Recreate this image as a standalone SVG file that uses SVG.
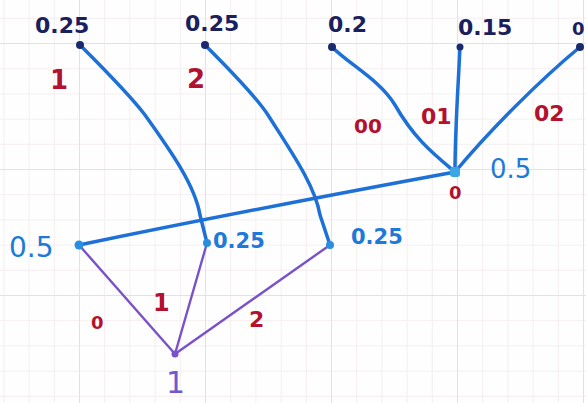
<svg xmlns="http://www.w3.org/2000/svg" width="586" height="403" viewBox="0 0 586 403">
<defs>
<pattern id="minor" x="3.4" y="17.8" width="25.2" height="25.2" patternUnits="userSpaceOnUse">
<path d="M0,0 H25.2 M0,0 V25.2" fill="none" stroke="#f4e9ec" stroke-width="1.5"/>
</pattern>
<pattern id="major" x="79" y="43" width="126" height="126" patternUnits="userSpaceOnUse">
<path d="M0,0 H126 M0,0 V126" fill="none" stroke="#ecdde1" stroke-width="2"/>
</pattern>
</defs>
<style>
.blue{fill:none;stroke:#1d70d6;stroke-width:3.5;stroke-linecap:round;stroke-linejoin:round}
.purple{fill:none;stroke:#7a52c8;stroke-width:2.4;stroke-linecap:round}
text{font-family:"DejaVu Sans","Liberation Sans",sans-serif;font-weight:bold}
.p{fill:#1b1f5e;font-size:22px}
.r{fill:#b3112e;font-size:26px}
.b{fill:#1d7ad8;font-size:26px;font-weight:normal}
.dot{fill:#1b2a6e}
</style>
<rect width="586" height="403" fill="#fefefe"/>
<rect width="586" height="403" fill="url(#minor)"/>
<rect width="586" height="403" fill="url(#major)"/>
<g id="connectors">
<path class="blue" d="M80,45 C100,65 130,95 145,115 C170,150 195,185 200,215 L207,243"/>
<path class="blue" d="M205,45 C225,65 255,95 268,115 C290,150 315,185 320,215 L330,245"/>
<path class="blue" d="M332,47 C350,65 380,80 395,105 C415,140 435,155 455,172"/>
<path class="blue" d="M460,47 C458,90 455,130 455,172"/>
<path class="blue" d="M580,47 C540,80 490,130 455,172"/>
<path class="blue" d="M455,172 C330,195 200,220 79,245"/>
<path class="purple" d="M79,245 L175,354"/>
<path class="purple" d="M207,243 L175,354"/>
<path class="purple" d="M330,245 L175,354"/>
</g>
<g id="n1"><circle class="dot" cx="80" cy="45" r="4"/><text class="p" x="35" y="33">0.25</text><text class="r" x="50" y="89">1</text></g>
<g id="n2"><circle class="dot" cx="205" cy="45" r="4"/><text class="p" x="185" y="31">0.25</text><text class="r" x="187" y="88">2</text></g>
<g id="n3"><circle class="dot" cx="332" cy="47" r="4"/><text class="p" x="328" y="32">0.2</text></g>
<g id="n4"><circle class="dot" cx="460" cy="47" r="3.5"/><text class="p" x="458" y="35">0.15</text></g>
<g id="n5"><circle class="dot" cx="580" cy="47" r="4"/><text class="p" x="572" y="35" style="font-size:18px">0</text></g>
<g id="center"><rect x="450" y="167" width="10" height="10" rx="3" fill="#3aa6e6"/><text class="b" x="490" y="178">0.5</text><text class="r" x="449" y="199" style="font-size:18px">0</text>
<text class="r" x="354" y="133" style="font-size:20px">00</text><text class="r" x="421" y="124" style="font-size:22px">01</text><text class="r" x="534" y="121" style="font-size:22px">02</text></g>
<g id="left"><circle cx="79" cy="245" r="4.5" fill="#2a8ee0"/><text class="b" x="9" y="257" style="font-size:28px">0.5</text></g>
<g id="mid"><circle cx="207" cy="243" r="4" fill="#2a8ee0"/><text class="b" x="213" y="248" style="font-size:21px;font-weight:bold">0.25</text></g>
<g id="right"><circle cx="330" cy="245" r="4" fill="#2a8ee0"/><text class="b" x="351" y="244" style="font-size:21px;font-weight:bold">0.25</text></g>
<g id="bottom"><circle cx="175" cy="354" r="3.5" fill="#7a52c8"/><text x="166" y="393" style="font-size:30px;fill:#6e5ad0;font-weight:normal">1</text>
<text class="r" x="91" y="329" style="font-size:18px">0</text><text class="r" x="153" y="311" style="font-size:24px">1</text><text class="r" x="249" y="327" style="font-size:22px">2</text></g>
</svg>
